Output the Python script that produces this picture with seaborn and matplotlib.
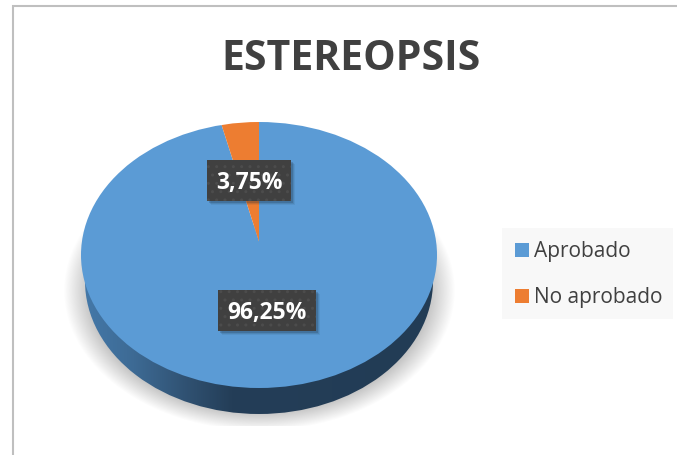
import numpy as np
import matplotlib
matplotlib.use("Agg")
import matplotlib.pyplot as plt
import seaborn as sns
from matplotlib.colors import LinearSegmentedColormap
from matplotlib.patches import Ellipse, Rectangle
from matplotlib.transforms import Affine2D

categorias = ["Aprobado", "No aprobado"]
valores = [96.25, 3.75]
colores = ["#5b9bd5", "#ed7d31"]
titulo = "ESTEREOPSIS"

sns.set_theme(style="white")
plt.rcParams["font.family"] = ["Open Sans", "DejaVu Sans"]

W, H = 677, 455
fig = plt.figure(figsize=(W / 100, H / 100), dpi=100)
ax = fig.add_axes([0, 0, 1, 1])

# el apice de la torta queda por encima del centro de la elipse (perspectiva)
cx, apice_y, rx, ry = 259, 241.5, 178, 133
centro_y = 255
wedges, _ = ax.pie(valores, colors=colores, startangle=90, counterclock=False,
                   radius=1.3, wedgeprops={"linewidth": 0, "zorder": 5})
ax.set_aspect("auto")
ax.axis("off")

# coordenadas en pixeles, con origen arriba a la izquierda
px = Affine2D().scale(1, -1).translate(0, H)

# marco del grafico
ax.plot([13, 13, W], [H, 5.5, 5.5], color="#bfbfbf", lw=1.5, transform=px,
        clip_on=False, zorder=1, solid_joinstyle="miter")

# sombra difusa bajo la torta
yy, xx = np.mgrid[225:426, 55:465]
dist = np.sqrt(((xx - 259) / 190) ** 2 + ((yy - 290) / 136) ** 2)
sombra = np.clip((1.03 - dist) / 0.13, 0, 1)
sombra_rgba = np.zeros(sombra.shape + (4,))
sombra_rgba[..., :3] = 0.72
sombra_rgba[..., 3] = sombra * 0.8
ax.imshow(sombra_rgba, extent=(55, 465, 426, 225), transform=px, aspect="auto",
          zorder=2, interpolation="bilinear")

# lateral de la torta con degradado
lateral = Ellipse((259, 281), 348, 266, transform=px, fc="none", ec="none")
ax.add_patch(lateral)
cmap_lateral = LinearSegmentedColormap.from_list(
    "lateral", [(0, "#4478a8"), (0.14, "#3d6a94"), (0.3, "#2f5070"),
                (0.42, "#243e58"), (1, "#223c55")])
grad = ax.imshow(np.linspace(0, 1, 256).reshape(1, -1), cmap=cmap_lateral,
                 extent=(85, 433, 414, 250), transform=px, aspect="auto", zorder=3)
grad.set_clip_path(lateral)

# cara superior, recortada a la elipse
cara = Ellipse((cx, centro_y), 2 * rx, 2 * ry, transform=px, fc="none", ec="none")
ax.add_patch(cara)
for w in wedges:
    w.set_clip_on(True)
    w.set_clip_path(cara)

ax.set_xlim((0 - cx) / rx, (W - cx) / rx)
ax.set_ylim((apice_y - H) / ry, apice_y / ry)

# etiquetas de datos
cajas = [(218, 290, 98, 41), (207, 160, 84, 41)]
for valor, (x0, y0, bw, bh) in zip(valores, cajas):
    for d, a in [(5, 0.08), (4, 0.12), (3, 0.2)]:
        ax.add_patch(Rectangle((x0 + d - 1, y0 + d - 1), bw, bh, fc="#1a2a3a", ec="none",
                               alpha=a, transform=px, zorder=6))
    ax.add_patch(Rectangle((x0, y0), bw, bh, fc="#404040", ec="#4c4c4c", lw=0, hatch="..",
                           transform=px, zorder=7))
    ax.text(x0 + bw / 2, y0 + bh / 2 + 2, f"{valor:.2f}".replace(".", ",") + "%",
            color="white", fontsize=16.5, fontweight="bold", ha="center", va="center",
            transform=px, zorder=8)

ax.text(351, 59, titulo, color="#404040", fontsize=29.5, fontweight="bold",
        ha="center", va="center", transform=px, zorder=8)

# leyenda sobre un fondo casi blanco
ax.add_patch(Rectangle((502, 228), 171, 91, fc="#f8f8f8", ec="none", transform=px, zorder=7))
ley = ax.legend(wedges, categorias, loc="upper left", bbox_to_anchor=(502, 228),
                bbox_transform=px, borderaxespad=0, fontsize=15, frameon=False,
                handlelength=0.67, handleheight=0.67, handletextpad=0.25,
                labelspacing=1.2, borderpad=0.62, labelcolor="#404040")
ley.set_zorder(8)

fig.savefig("out.png", dpi=100, facecolor="white")
